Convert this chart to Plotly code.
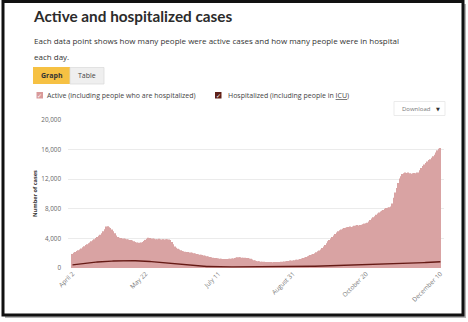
import pandas as pd
import plotly.graph_objects as go

# Daily counts, April 2 – December 10
start_date = "2020-04-02"
active = [
    1900, 2050, 2150, 2300, 2400, 2500, 2650, 2800, 2950, 3100,
    3200, 3350, 3450, 3600, 3750, 3900, 4050, 4200, 4350, 4500,
    4700, 4950, 5250, 5600, 5650, 5500, 5400, 5200, 4950, 4700,
    4400, 4200, 4100, 4050, 4000, 4000, 3950, 3900, 3850, 3800,
    3800, 3700, 3600, 3500, 3450, 3400, 3400, 3450, 3500, 3650,
    3800, 3950, 4100, 4050, 4000, 4000, 3950, 3900, 3900, 3950,
    3900, 3850, 3900, 3850, 3900, 3900, 3850, 3800, 3500, 3200,
    2900, 2750, 2600, 2500, 2400, 2300, 2250, 2200, 2150, 2150,
    2100, 2100, 2050, 2000, 1950, 1900, 1850, 1800, 1800, 1750,
    1700, 1650, 1600, 1550, 1500, 1450, 1400, 1350, 1350, 1300,
    1300, 1250, 1250, 1200, 1200, 1200, 1200, 1250, 1250, 1300,
    1300, 1350, 1400, 1450, 1450, 1450, 1400, 1400, 1400, 1350,
    1350, 1300, 1250, 1150, 1050, 1000, 950, 900, 900, 850,
    850, 850, 820, 800, 800, 800, 800, 790, 800, 800,
    800, 810, 820, 840, 860, 880, 900, 930, 960, 1000,
    1000, 1030, 1060, 1100, 1120, 1150, 1200, 1270, 1350, 1420,
    1500, 1580, 1650, 1750, 1820, 1900, 2000, 2120, 2250, 2380,
    2500, 2700, 2900, 3100, 3350, 3600, 3800, 4000, 4200, 4400,
    4600, 4800, 4950, 5100, 5200, 5300, 5400, 5450, 5500, 5550,
    5600, 5550, 5600, 5700, 5750, 5800, 5750, 5800, 5850, 5900,
    6000, 6050, 6100, 6300, 6500, 6700, 6850, 7000, 7200, 7350,
    7500, 7650, 7750, 7850, 8000, 8100, 8150, 8200, 8300, 8700,
    9500, 10200, 10800, 11500, 12100, 12400, 12700, 12800, 12900, 12850,
    12900, 12800, 12750, 12800, 12850, 12800, 12900, 12900, 13200, 13500,
    13800, 14000, 14200, 14400, 14600, 14700, 14900, 15100, 15300, 15600,
    15900, 16100, 16200,
]
hospitalized = [
    420, 450, 480, 510, 540, 570, 600, 620, 640, 660,
    680, 700, 720, 740, 760, 780, 800, 820, 840, 850,
    860, 870, 880, 890, 900, 910, 920, 930, 940, 950,
    960, 970, 980, 990, 1000, 1000, 1010, 1010, 1000, 1000,
    1000, 990, 990, 980, 980, 970, 960, 950, 940, 930,
    920, 900, 890, 880, 860, 840, 820, 800, 780, 760,
    740, 720, 700, 680, 660, 640, 620, 600, 580, 560,
    540, 520, 500, 480, 460, 440, 420, 400, 380, 360,
    340, 320, 300, 290, 280, 270, 260, 250, 240, 230,
    220, 210, 200, 200, 190, 190, 180, 180, 180, 170,
    170, 170, 160, 160, 160, 160, 150, 150, 150, 150,
    150, 150, 150, 140, 140, 140, 140, 140, 140, 140,
    140, 140, 140, 140, 140, 140, 140, 140, 140, 140,
    140, 140, 140, 140, 140, 140, 140, 145, 145, 150,
    150, 155, 155, 160, 160, 165, 165, 170, 170, 175,
    175, 180, 185, 190, 190, 195, 200, 200, 205, 210,
    215, 220, 225, 230, 235, 240, 245, 250, 255, 260,
    260, 265, 270, 275, 280, 285, 290, 295, 300, 305,
    310, 315, 320, 325, 330, 335, 340, 345, 350, 355,
    360, 365, 370, 375, 380, 385, 390, 395, 400, 405,
    410, 415, 420, 425, 430, 440, 450, 460, 470, 480,
    490, 500, 510, 520, 530, 540, 550, 560, 570, 580,
    590, 600, 600, 605, 610, 615, 620, 625, 630, 635,
    640, 645, 650, 660, 670, 680, 690, 700, 700, 710,
    720, 730, 740, 750, 760, 770, 780, 790, 800, 810,
    820, 830, 840,
]
tick_dates = ["2020-04-02", "2020-05-22", "2020-07-11", "2020-08-31", "2020-10-20", "2020-12-10"]
tick_labels = ["April 2", "May 22", "July 11", "August 31", "October 20", "December 10"]
y_ticks = [0, 4000, 8000, 12000, 16000, 20000]
y_tick_labels = ["0", "4,000", "8,000", "12,000", "16,000", "20,000"]

dates = pd.date_range(start_date, periods=len(active), freq="D")

W, H = 468, 322
L, R, T, B = 68, 24, 120, 54
PW, PH = W - L - R, H - T - B


def px(x):
    return (x - L) / PW


def py(y):
    return (H - B - y) / PH


BAR = "#d9a3a3"
LINE = "#651a15"
BODY = "Open Sans"

fig = go.Figure()
fig.add_trace(go.Bar(x=dates, y=active, marker=dict(color=BAR, line=dict(width=0)),
                     name="Active (including people who are hospitalized)", showlegend=False))
fig.add_trace(go.Scatter(x=dates, y=hospitalized, mode="lines", line=dict(color=LINE, width=1.4),
                         name="Hospitalized (including people in ICU)", showlegend=False))

t0 = pd.Timestamp(start_date)
x_lo = t0 + pd.Timedelta(days=(L - 72.5) / 1.46)
x_hi = t0 + pd.Timedelta(days=(W - R - 72.5) / 1.46)

shapes = []
# frame with drop shadow
shapes.append(dict(type="rect", xref="paper", yref="paper", x0=px(5), x1=px(466), y0=py(4), y1=py(318),
                   line=dict(width=0), fillcolor="rgba(120,120,120,0.55)", layer="below"))
shapes.append(dict(type="rect", xref="paper", yref="paper", x0=px(3), x1=px(463), y0=py(1.5), y1=py(315),
                   line=dict(color="#111", width=3), fillcolor="white", layer="below"))
# Graph / Table buttons
shapes.append(dict(type="rect", xref="paper", yref="paper", x0=px(33), x1=px(70), y0=py(67), y1=py(84),
                   line=dict(width=0), fillcolor="#f6c143"))
shapes.append(dict(type="rect", xref="paper", yref="paper", x0=px(70), x1=px(104), y0=py(67.5), y1=py(84),
                   line=dict(color="#dcdcdc", width=0.8), fillcolor="#efefef"))
# legend check boxes
shapes.append(dict(type="rect", xref="paper", yref="paper", x0=px(36.5), x1=px(43), y0=py(92), y1=py(98.5),
                   line=dict(width=0), fillcolor="#d99a9a"))
shapes.append(dict(type="rect", xref="paper", yref="paper", x0=px(215), x1=px(221.5), y0=py(92), y1=py(98.5),
                   line=dict(width=0), fillcolor="#5e2018"))
# Download button
shapes.append(dict(type="rect", xref="paper", yref="paper", x0=px(394), x1=px(445), y0=py(101.5), y1=py(115.5),
                   line=dict(color="#e6e6e6", width=0.8), fillcolor="white"))

annotations = [
    dict(text="<b>Active and hospitalized cases</b>", x=px(31), y=py(16), xanchor="left", yanchor="middle",
         font=dict(family="Lato", size=15.3, color="#2b2b2b")),
    dict(text="Each data point shows how many people were active cases and how many people were in hospital",
         x=px(31.5), y=py(40.5), xanchor="left", yanchor="middle", font=dict(family=BODY, size=8.0, color="#333")),
    dict(text="each day.", x=px(31.5), y=py(56), xanchor="left", yanchor="middle",
         font=dict(family=BODY, size=8.0, color="#333")),
    dict(text="<b>Graph</b>", x=px(51.5), y=py(75.5), xanchor="center", yanchor="middle",
         font=dict(family=BODY, size=7, color="#333")),
    dict(text="Table", x=px(87), y=py(75.5), xanchor="center", yanchor="middle",
         font=dict(family=BODY, size=7, color="#444")),
    dict(text="✓", x=px(39.8), y=py(95.3), xanchor="center", yanchor="middle",
         font=dict(family="DejaVu Sans", size=6, color="white")),
    dict(text="✓", x=px(218.3), y=py(95.3), xanchor="center", yanchor="middle",
         font=dict(family="DejaVu Sans", size=6, color="white")),
    dict(text="Active (including people who are hospitalized)", x=px(45), y=py(95.5), xanchor="left",
         yanchor="middle", font=dict(family=BODY, size=7.0, color="#444")),
    dict(text="Hospitalized (including people in <span style='text-decoration:underline'>ICU</span>)",
         x=px(226), y=py(95.5), xanchor="left", yanchor="middle", font=dict(family=BODY, size=7.0, color="#444")),
    dict(text="Download", x=px(400), y=py(108.5), xanchor="left", yanchor="middle",
         font=dict(family=BODY, size=6, color="#777")),
    dict(text="▼", x=px(437.5), y=py(108.5), xanchor="center", yanchor="middle",
         font=dict(family="DejaVu Sans", size=5, color="#333")),
    dict(text="<b>Number of cases</b>", x=px(35), y=py(194), xanchor="center", yanchor="middle", textangle=-90,
         font=dict(family=BODY, size=5.6, color="#333")),
]
for a in annotations:
    a.update(xref="paper", yref="paper", showarrow=False)

fig.update_layout(
    width=W, height=H,
    margin=dict(l=L, r=R, t=T, b=B),
    paper_bgcolor="white", plot_bgcolor="white",
    bargap=0.3,
    showlegend=False,
    shapes=shapes,
    annotations=annotations,
    font=dict(family=BODY, color="#666"),
)
fig.update_xaxes(type="date", range=[x_lo, x_hi], tickvals=tick_dates, ticktext=tick_labels, tickangle=-45,
                 tickfont=dict(family=BODY, size=6.3, color="#777"), showgrid=False, zeroline=False,
                 showline=False, ticks="", ticklen=0)
fig.update_yaxes(range=[0, 20000], tickvals=y_ticks, ticktext=y_tick_labels,
                 tickfont=dict(family=BODY, size=6.3, color="#666"), showgrid=True, gridcolor="#ebebeb",
                 gridwidth=1, zeroline=False, showline=False, ticks="", ticklabelstandoff=6)

fig.write_html("out.html")
